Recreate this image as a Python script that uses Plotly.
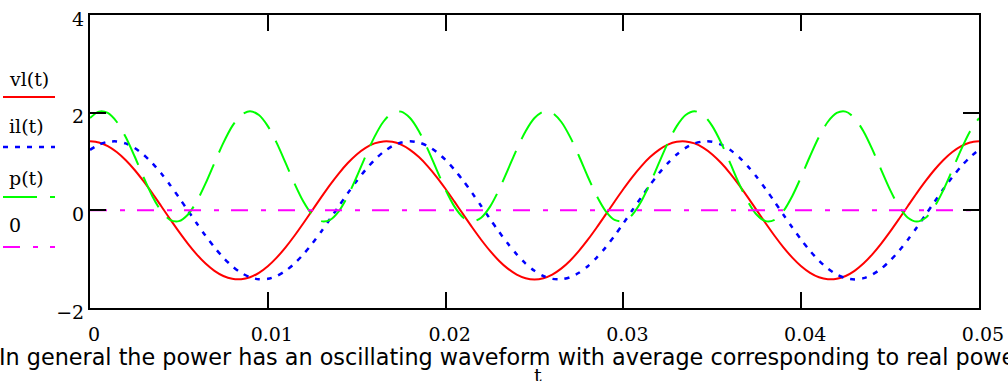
import plotly.graph_objects as go

# ---------------- data ----------------
t_vals = [round(i * 0.0005, 4) for i in range(101)]

vl_vals = [
    1.414, 1.389, 1.315, 1.194, 1.031, 0.831, 0.602, 0.352, 0.089, -0.177,
    -0.437, -0.681, -0.901, -1.090, -1.239, -1.345, -1.403, -1.411, -1.370, -1.279,
    -1.144, -0.968, -0.758, -0.521, -0.265, 0.000, 0.265, 0.521, 0.758, 0.968,
    1.144, 1.279, 1.370, 1.411, 1.403, 1.345, 1.239, 1.090, 0.901, 0.681,
    0.437, 0.177, -0.089, -0.352, -0.602, -0.831, -1.031, -1.194, -1.315, -1.389,
    -1.414, -1.389, -1.315, -1.194, -1.031, -0.831, -0.602, -0.352, -0.089, 0.177,
    0.437, 0.681, 0.901, 1.090, 1.239, 1.345, 1.403, 1.411, 1.370, 1.279,
    1.144, 0.968, 0.758, 0.521, 0.265, 0.000, -0.265, -0.521, -0.758, -0.968,
    -1.144, -1.279, -1.370, -1.411, -1.403, -1.345, -1.239, -1.090, -0.901, -0.681,
    -0.437, -0.177, 0.089, 0.352, 0.602, 0.831, 1.031, 1.194, 1.315, 1.389,
    1.414,
]

il_vals = [
    1.239, 1.345, 1.403, 1.411, 1.370, 1.279, 1.144, 0.968, 0.758, 0.521,
    0.265, 0.000, -0.265, -0.521, -0.758, -0.968, -1.144, -1.279, -1.370, -1.411,
    -1.403, -1.345, -1.239, -1.090, -0.901, -0.681, -0.437, -0.177, 0.089, 0.352,
    0.602, 0.831, 1.031, 1.194, 1.315, 1.389, 1.414, 1.389, 1.315, 1.194,
    1.031, 0.831, 0.602, 0.352, 0.089, -0.177, -0.437, -0.681, -0.901, -1.090,
    -1.239, -1.345, -1.403, -1.411, -1.370, -1.279, -1.144, -0.968, -0.758, -0.521,
    -0.265, 0.000, 0.265, 0.521, 0.758, 0.968, 1.144, 1.279, 1.370, 1.411,
    1.403, 1.345, 1.239, 1.090, 0.901, 0.681, 0.437, 0.177, -0.089, -0.352,
    -0.602, -0.831, -1.031, -1.194, -1.315, -1.389, -1.414, -1.389, -1.315, -1.194,
    -1.031, -0.831, -0.602, -0.352, -0.089, 0.177, 0.437, 0.681, 0.901, 1.090,
    1.239,
]

p_vals = [
    1.890, 2.021, 1.994, 1.814, 1.505, 1.112, 0.688, 0.295, -0.014, -0.194,
    -0.221, -0.090, 0.180, 0.551, 0.971, 1.381, 1.724, 1.951, 2.030, 1.951,
    1.724, 1.381, 0.971, 0.551, 0.180, -0.090, -0.221, -0.194, -0.014, 0.295,
    0.688, 1.112, 1.505, 1.814, 1.994, 2.021, 1.890, 1.620, 1.249, 0.829,
    0.419, 0.076, -0.151, -0.230, -0.151, 0.076, 0.419, 0.829, 1.249, 1.620,
    1.890, 2.021, 1.994, 1.814, 1.505, 1.112, 0.688, 0.295, -0.014, -0.194,
    -0.221, -0.090, 0.180, 0.551, 0.971, 1.381, 1.724, 1.951, 2.030, 1.951,
    1.724, 1.381, 0.971, 0.551, 0.180, -0.090, -0.221, -0.194, -0.014, 0.295,
    0.688, 1.112, 1.505, 1.814, 1.994, 2.021, 1.890, 1.620, 1.249, 0.829,
    0.419, 0.076, -0.151, -0.230, -0.151, 0.076, 0.419, 0.829, 1.249, 1.620,
    1.890,
]

zero_t = [0.0, 0.05]
zero_vals = [0.0, 0.0]

x_tickvals = [0, 0.01, 0.02, 0.03, 0.04, 0.05]
x_ticktext = ["0", "0.01", "0.02", "0.03", "0.04", "0.05"]
y_tickvals = [-2, 0, 2, 4]
y_ticktext = ["\u22122", "0", "2", "4"]

series_names = ["vl(t)", "il(t)", "p(t)", "0"]
series_colors = ["#ff0000", "#0000ff", "#00ff00", "#ff00ff"]
series_dash = ["solid", "5px,7px", "34px,13px", "17px,13px,5px,12px"]
series_width = [2, 2.5, 2, 2]

caption = ("In general the power has an oscillating waveform with average "
           "corresponding to real power.")
x_title = "t"

# ---------------- layout geometry ----------------
W, H = 1008, 381
L, R, T, B = 90, 29, 15, 73
PW = W - L - R
PH = H - T - B


def px(x):
    return (x - L) / PW


def py(y):
    return (H - B - y) / PH


SERIF = "DejaVu Serif, Liberation Serif, serif"
SANS = "DejaVu Sans, Liberation Sans, sans-serif"

fig = go.Figure()
data_sets = [(t_vals, vl_vals), (t_vals, il_vals), (t_vals, p_vals), (zero_t, zero_vals)]
for (xs, ys), name, col, dsh, wd in zip(data_sets, series_names, series_colors,
                                         series_dash, series_width):
    fig.add_trace(go.Scatter(
        x=xs, y=ys, mode="lines", name=name,
        line=dict(color=col, dash=dsh, width=wd, shape="spline", smoothing=0.8),
        showlegend=False, hoverinfo="skip",
    ))

# Mathcad-style legend at the left (label above a line sample)
legend_text_y = [79, 126, 178, 225]
legend_line_y = [97, 147, 197, 247]
annotations = []
shapes = []
for name, col, dsh, wd, ty, ly in zip(series_names, series_colors, series_dash,
                                      series_width, legend_text_y, legend_line_y):
    annotations.append(dict(
        text=name, xref="paper", yref="paper", x=px(7), y=py(ty),
        xanchor="left", yanchor="middle", showarrow=False,
        font=dict(family=SERIF, size=19, color="black"),
    ))
    shapes.append(dict(
        type="line", xref="paper", yref="paper",
        x0=px(3), x1=px(55), y0=py(ly), y1=py(ly),
        line=dict(color=col, dash=dsh, width=wd),
    ))

annotations.append(dict(
    text=caption, xref="paper", yref="paper", x=px(-3), y=py(357),
    xanchor="left", yanchor="middle", showarrow=False,
    font=dict(family=SANS, size=22.3, color="black"),
))
annotations.append(dict(
    text=x_title, xref="paper", yref="paper", x=px(538), y=py(375),
    xanchor="center", yanchor="middle", showarrow=False,
    font=dict(family=SERIF, size=19, color="black"),
))

axis_common = dict(
    showline=True, linecolor="black", linewidth=2, mirror="ticks",
    ticks="inside", ticklen=16, tickwidth=2, tickcolor="black",
    showgrid=False, zeroline=False,
    tickfont=dict(family=SERIF, size=19, color="black"),
)

fig.update_layout(
    width=W, height=H,
    margin=dict(l=L, r=R, t=T, b=B, autoexpand=False),
    paper_bgcolor="white", plot_bgcolor="white",
    xaxis=dict(range=[0, 0.05], tickvals=x_tickvals, ticktext=x_ticktext,
               ticklabelstandoff=8, ticklabelshift=4, ticklabeloverflow="allow",
               **axis_common),
    yaxis=dict(range=[-2, 4], tickvals=y_tickvals, ticktext=y_ticktext,
               ticklabelstandoff=0, ticklabelshift=4, ticklabeloverflow="allow",
               **axis_common),
    annotations=annotations,
    shapes=shapes,
    showlegend=False,
)

fig.write_html("out.html", config={"displayModeBar": False},
               post_script="document.body.style.margin='0';")
